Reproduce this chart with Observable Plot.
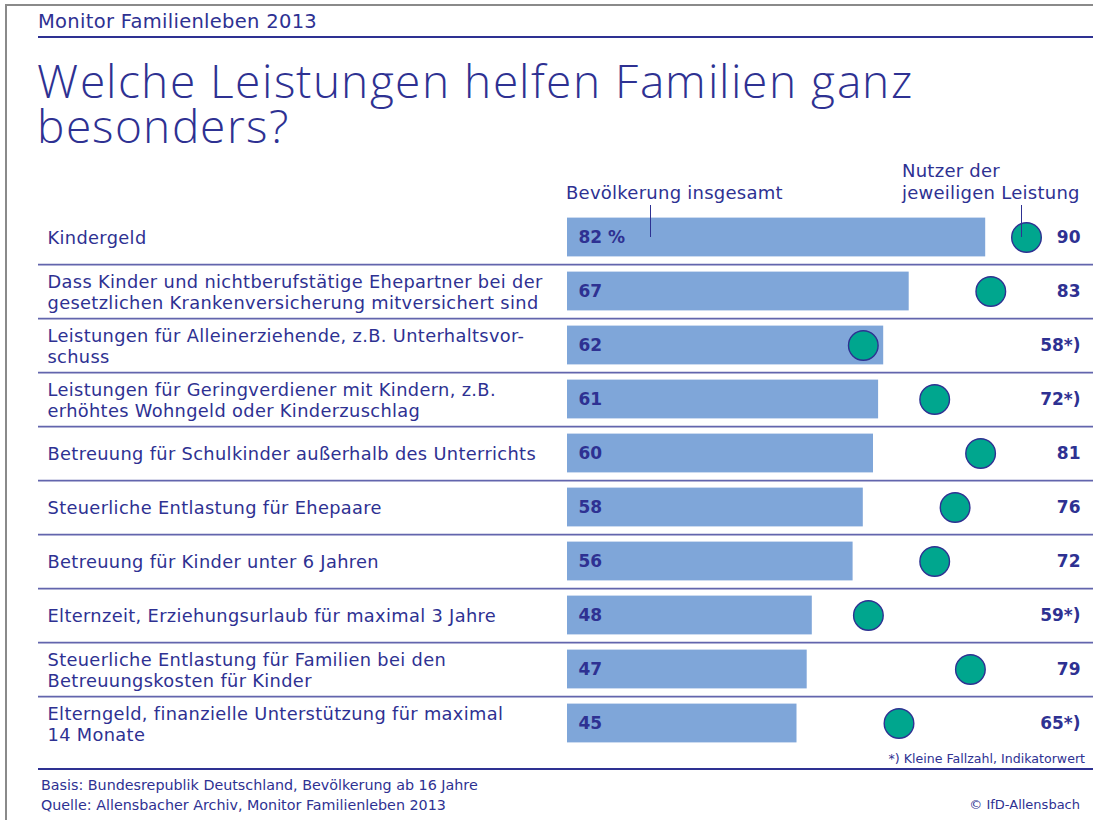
<!DOCTYPE html>
<html><head><meta charset="utf-8">
<script src="https://cdn.jsdelivr.net/npm/d3@7"></script>
<script src="https://cdn.jsdelivr.net/npm/@observablehq/plot@0.6"></script>
<style>
@font-face{font-family:"TitleFace";src:local("Open Sans Light"),local("OpenSans-Light");font-weight:300;ascent-override:78%;descent-override:19%;line-gap-override:0%}
body{margin:0;background:#fff;width:1093px;height:820px;position:relative;overflow:hidden;font-family:"DejaVu Sans",sans-serif;color:#2e3192}
.abs{position:absolute;white-space:nowrap}
.t{font-family:"TitleFace","Open Sans",sans-serif;font-weight:300;font-size:46px;line-height:45px;letter-spacing:1.56px}
#chart{position:absolute;left:0;top:205px}
</style></head><body>
<div class="abs" style="left:6px;top:4px;width:1087px;height:2px;background:#8a8a8a"></div>
<div class="abs" style="left:5px;top:4px;width:2px;height:816px;background:#8a8a8a"></div>
<div class="abs" style="left:38px;top:10.5px;font-size:19.5px;line-height:22px;letter-spacing:0.3px;">Monitor Familienleben 2013</div>
<div class="abs" style="left:38px;top:36px;width:1055px;height:1.5px;background:#2e3192"></div>
<div class="abs t" id="t1" style="left:37px;top:61.9px;">Welche Leistungen helfen Familien ganz</div>
<div class="abs t" id="t2" style="left:37px;top:106.9px;">besonders?</div>
<div class="abs" style="left:566px;top:182.5px;font-size:18px;line-height:20px;letter-spacing:0.25px;">Bevölkerung insgesamt</div>
<div class="abs" style="left:902px;top:160.5px;font-size:18px;line-height:20px;letter-spacing:0.25px;">Nutzer der</div>
<div class="abs" style="left:902px;top:182.5px;font-size:18px;line-height:20px;letter-spacing:0.25px;">jeweiligen Leistung</div>
<div class="abs" style="left:650px;top:205px;width:1.2px;height:32px;background:#2e3192;z-index:2"></div>
<div class="abs" style="left:1021px;top:205px;width:1.2px;height:32px;background:#2e3192;z-index:2"></div>
<div id="chart"></div>
<div class="abs" style="right:8px;top:751.5px;font-size:12.6px;line-height:14px;">*) Kleine Fallzahl, Indikatorwert</div>
<div class="abs" style="left:38px;top:768px;width:1055px;height:1.5px;background:#2e3192"></div>
<div class="abs" style="left:41px;top:775px;font-size:14.3px;line-height:20px;">Basis: Bundesrepublik Deutschland, Bevölkerung ab 16 Jahre</div>
<div class="abs" style="left:41px;top:795px;font-size:14.3px;line-height:20px;">Quelle: Allensbacher Archiv, Monitor Familienleben 2013</div>
<div class="abs" style="right:13px;top:795.3px;font-size:13px;line-height:20px;">© IfD-Allensbach</div>
<script>
const categories = [
  "Kindergeld",
  "Dass Kinder und nichtberufstätige Ehepartner bei der\ngesetzlichen Krankenversicherung mitversichert sind",
  "Leistungen für Alleinerziehende, z.B. Unterhaltsvor-\nschuss",
  "Leistungen für Geringverdiener mit Kindern, z.B.\nerhöhtes Wohngeld oder Kinderzuschlag",
  "Betreuung für Schulkinder außerhalb des Unterrichts",
  "Steuerliche Entlastung für Ehepaare",
  "Betreuung für Kinder unter 6 Jahren",
  "Elternzeit, Erziehungsurlaub für maximal 3 Jahre",
  "Steuerliche Entlastung für Familien bei den\nBetreuungskosten für Kinder",
  "Elterngeld, finanzielle Unterstützung für maximal\n14 Monate"
];
const bevoelkerung = [82, 67, 62, 61, 60, 58, 56, 48, 47, 45];
const nutzer = [90, 83, 58, 72, 81, 76, 72, 59, 79, 65];
const bevLabels = ["82 %", "67", "62", "61", "60", "58", "56", "48", "47", "45"];
const nutzerLabels = ["90", "83", "58*)", "72*)", "81", "76", "72", "59*)", "79", "65*)"];

const data = categories.map((c, i) => ({label: c, bev: bevoelkerung[i], nutzer: nutzer[i], bevLabel: bevLabels[i], nutzerLabel: nutzerLabels[i]}));
const navy = "#2e3192";
const font = "'DejaVu Sans', sans-serif";

const chart = Plot.plot({
  width: 1093, height: 560,
  marginLeft: 38, marginRight: 0, marginTop: 4.4, marginBottom: 13.6,
  style: {fontFamily: font, background: "transparent", overflow: "visible"},
  x: {domain: [0, 100], range: [567, 1077], axis: null},
  y: {domain: categories, padding: 0, axis: null},
  marks: [
    Plot.ruleY(categories.slice(0, -1), {y: d => d, dy: 27.1, stroke: navy, strokeWidth: 1.6, strokeOpacity: 0.75}),
    Plot.barX(data, {x: "bev", y: "label", fill: "#7fa6d9", insetTop: 7.6, insetBottom: 7.6}),
    Plot.dot(data, {x: "nutzer", y: "label", r: 14.8, fill: "#00a68e", stroke: navy, strokeWidth: 1.4}),
    Plot.text(data, {x: d => 0, y: "label", text: "bevLabel", textAnchor: "start", dx: 11, fontSize: 17, fontWeight: "bold", fill: navy}),
    Plot.text(data, {y: "label", text: "nutzerLabel", frameAnchor: "right", textAnchor: "end", dx: -13, fontSize: 17, fontWeight: "bold", fill: navy}),
    Plot.text(data, {y: "label", text: "label", frameAnchor: "left", textAnchor: "start", dx: 9, fontSize: 17.8, lineHeight: 1.17, fill: navy})
  ]
});
chart.querySelectorAll("g[aria-label='text']").forEach((g, i, all) => { if (i === all.length - 1) g.setAttribute("letter-spacing", "0.35"); });
document.getElementById("chart").appendChild(chart);
document.fonts.ready.then(() => {
  if (![...document.fonts].some(f => f.family.includes("TitleFace") && f.status === "loaded")) {
    document.getElementById("t1").style.top = "57.5px";
    document.getElementById("t2").style.top = "102.5px";
  }
});
</script>
</body></html>
